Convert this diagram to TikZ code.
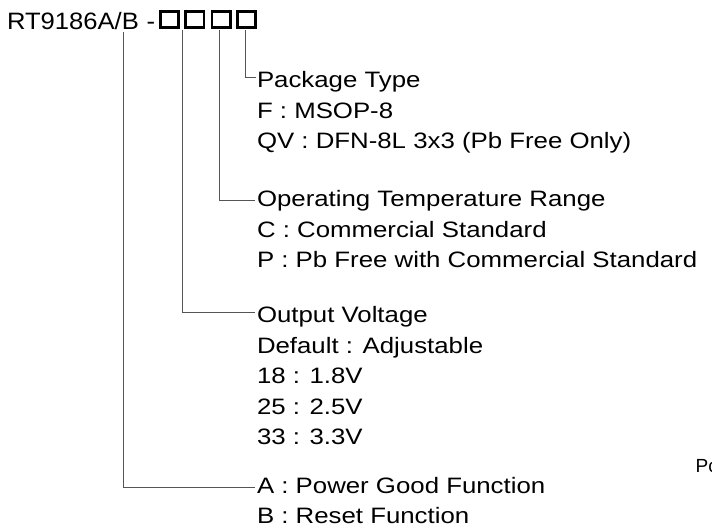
\documentclass[tikz,border=0pt]{standalone}
\usepackage{fontspec}
\usepackage{graphicx}
\setmainfont{Liberation Sans}
\newcommand{\bx}[1]{\scalebox{1.157}[1]{#1}}
\newcommand{\tx}[1]{\scalebox{1.08}[1]{#1}}
\definecolor{linegray}{RGB}{85,85,85}
\begin{document}
\begin{tikzpicture}[x=1bp,y=-1bp,
  lbl/.style={anchor=base west,inner sep=0pt,outer sep=0pt,font=\fontsize{22.3bp}{26bp}\selectfont},
  ttl/.style={anchor=base west,inner sep=0pt,outer sep=0pt,font=\fontsize{23.7bp}{26bp}\selectfont},
  codebox/.style={draw=black,line width=2.8bp,minimum width=18.2bp,minimum height=16.2bp,inner sep=0pt,outer sep=0pt},
  conn/.style={draw=linegray,line width=0.9bp}]
\useasboundingbox (0,0) rectangle (712,528);
% title
\node[ttl] (title) at (7,30) {\tx{RT9186A/B}};
\node[ttl] (dash) at (146.5,30) {\tx{-}};
\node[codebox] (b1) at (169.5,19.5) {};
\node[codebox] (b2) at (194.8,19.5) {};
\node[codebox] (b3) at (221,19.5) {};
\node[codebox] (b4) at (246.5,19.5) {};
% package type
\node[lbl] (pk0) at (257,88) {\bx{Package Type}};
\node[lbl] (pk1) at (257,118.5) {\bx{F : MSOP-8}};
\node[lbl] (pk2) at (257,149) {\bx{QV : DFN-8L 3x3 (Pb Free Only)}};
% temperature
\node[lbl] (tp0) at (257,207) {\bx{Operating Temperature Range}};
\node[lbl] (tp1) at (257,237.5) {\bx{C : Commercial Standard}};
\node[lbl] (tp2) at (257,268) {\bx{P : Pb Free with Commercial Standard}};
% output voltage
\node[lbl] (ov0) at (257,322.5) {\bx{Output Voltage}};
\node[lbl] (ov1) at (257,353) {\bx{Default : Adjustable}};
\node[lbl] (ov2) at (257,383.5) {\bx{18 : 1.8V}};
\node[lbl] (ov3) at (257,414) {\bx{25 : 2.5V}};
\node[lbl] (ov4) at (257,444.5) {\bx{33 : 3.3V}};
% function
\node[lbl] (fn0) at (257,493) {\bx{A : Power Good Function}};
\node[lbl] (fn1) at (257,523.5) {\bx{B : Reset Function}};
% cropped text at right edge
\begin{scope}
\clip (0,0) rectangle (712,528);
\node[anchor=base west,inner sep=0pt,font=\fontsize{19bp}{22bp}\selectfont] (pc) at (695.5,472) {Pc};
\end{scope}
% connectors
\coordinate (s1) at (123.3,32);
\coordinate (k1) at (123.3,487);
\coordinate (e1) at (254.5,487);
\coordinate (s2) at (182.7,30);
\coordinate (k2) at (182.7,312);
\coordinate (e2) at (255,312);
\coordinate (s3) at (219.7,30);
\coordinate (k3) at (219.7,200);
\coordinate (e3) at (255,200);
\coordinate (s4) at (245.5,30);
\coordinate (k4) at (245.5,77);
\coordinate (e4) at (256,77);
\draw[conn] (s1) -- (k1) -- (e1);
\draw[conn] (s2) -- (k2) -- (e2);
\draw[conn] (s3) -- (k3) -- (e3);
\draw[conn] (s4) -- (k4) -- (e4);
\end{tikzpicture}
\end{document}
